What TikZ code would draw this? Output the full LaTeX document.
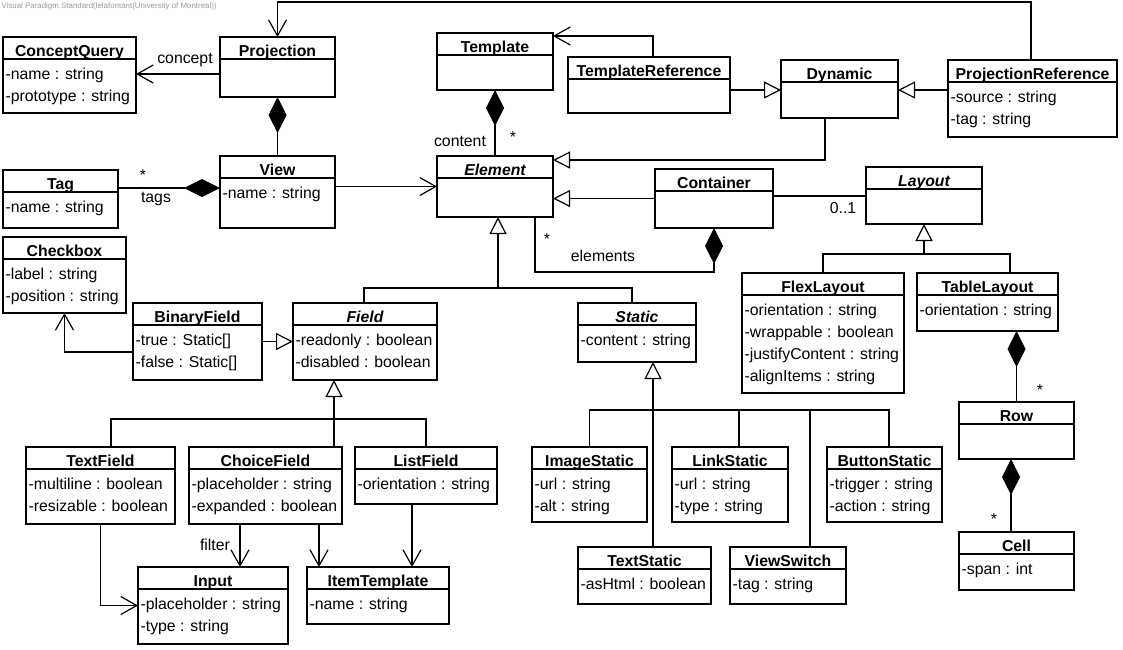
\documentclass[tikz,border=0pt]{standalone}
\usepackage{fontspec}
\setmainfont{Liberation Sans}
\usetikzlibrary{arrows.meta,calc}

\newcommand{\umlfont}{\fontsize{15.8}{19}\selectfont}

\tikzset{
  classbox/.style={draw, inner sep=0pt, outer sep=0pt, anchor=north west},
  classtitle/.style={font=\umlfont\bfseries, inner sep=0pt, anchor=base},
  attr/.style={font=\umlfont, inner sep=0pt, anchor=base west},
  lbl/.style={font=\umlfont, inner sep=0pt, anchor=base},
  assoc/.style={-{Straight Barb[length=16pt,width=18pt,line width=1.2pt]}},
  gen/.style={-{Triangle[open,length=17pt,width=17pt]}},
  comp/.style={{Diamond[length=36pt,width=18pt]}-},
}

% name, x, y (top left), width, height, title, attributes
\newcommand{\umlclass}[7]{%
  \node[classbox, minimum width=#4pt, minimum height=#5pt] (#1) at (#2,#3) {};
  \node[classtitle] (#1-title) at ($(#1.north)+(0,19)$) {#6};
  \draw ($(#1.north west)+(0,22)$) -- ($(#1.north east)+(0,22)$);
  \if\relax\detokenize{#7}\relax\else
    \foreach \atr [count=\k] in {#7}
      \node[attr] (#1-a\k) at ($(#1.north west)+(2,20+22*\k)$) {\atr};
  \fi
}

\begin{document}
\begin{tikzpicture}[x=1pt, y=-1pt, line width=1.2pt]
  \useasboundingbox (0,0) rectangle (1123,649);
  \node[anchor=west, inner sep=0pt, text=black!40, font=\fontsize{7.9}{9}\selectfont] (watermark) at (1,6)
    {Visual Paradigm Standard(lelafontant(University of Montreal))};

  % classes
  \umlclass{ConceptQuery}{3}{37}{133}{76}{ConceptQuery}{-name : string, -prototype : string}
  \umlclass{Projection}{220}{37}{115}{60}{Projection}{}
  \umlclass{Tag}{3}{170}{115}{58}{Tag}{-name : string}
  \umlclass{View}{220}{156}{115}{72}{View}{-name : string}
  \umlclass{Template}{437}{33}{116}{57}{Template}{}
  \umlclass{TemplateReference}{568}{57}{162}{56}{TemplateReference}{}
  \umlclass{Element}{437}{156}{116}{61}{\itshape Element}{}
  \umlclass{Dynamic}{781}{60}{117}{58}{Dynamic}{}
  \umlclass{ProjectionReference}{948}{60}{169}{77}{ProjectionReference}{-source : string, -tag : string}
  \umlclass{Container}{655}{169}{118}{59}{Container}{}
  \umlclass{Layout}{866}{167}{116}{57}{\itshape Layout}{}
  \umlclass{Checkbox}{3}{237}{123}{76}{Checkbox}{-label : string, -position : string}
  \umlclass{BinaryField}{133}{303}{129}{77}{BinaryField}{{-true : Static[]}, {-false : Static[]}}
  \umlclass{Field}{293}{303}{144}{77}{\itshape Field}{-readonly : boolean, -disabled : boolean}
  \umlclass{Static}{578}{303}{118}{59}{\itshape Static}{-content : string}
  \umlclass{FlexLayout}{742}{273}{162}{120}{FlexLayout}{-orientation : string, -wrappable : boolean, -justifyContent : string, -alignItems : string}
  \umlclass{TableLayout}{917}{273}{141}{58}{TableLayout}{-orientation : string}
  \umlclass{TextField}{26}{447}{149}{77}{TextField}{-multiline : boolean, -resizable : boolean}
  \umlclass{ChoiceField}{189}{447}{153}{77}{ChoiceField}{-placeholder : string, -expanded : boolean}
  \umlclass{ListField}{355}{447}{142}{57}{ListField}{-orientation : string}
  \umlclass{Input}{138}{567}{150}{77}{Input}{-placeholder : string, -type : string}
  \umlclass{ItemTemplate}{307}{567}{142}{57}{ItemTemplate}{-name : string}
  \umlclass{ImageStatic}{532}{447}{115}{75}{ImageStatic}{-url : string, -alt : string}
  \umlclass{LinkStatic}{672}{447}{116}{75}{LinkStatic}{-url : string, -type : string}
  \umlclass{ButtonStatic}{827}{447}{115}{75}{ButtonStatic}{-trigger : string, -action : string}
  \umlclass{TextStatic}{578}{547}{133}{57}{TextStatic}{-asHtml : boolean}
  \umlclass{ViewSwitch}{730}{547}{116}{57}{ViewSwitch}{-tag : string}
  \umlclass{Row}{959}{402}{115}{57}{Row}{}
  \umlclass{Cell}{959}{532}{115}{58}{Cell}{-span : int}

  % associations
  \draw[assoc] (Projection.west |- 0,74) -- (ConceptQuery.east |- 0,74);
  \draw[assoc] (ProjectionReference.north -| 1031,0) -- ++(0,-58) -| (Projection.north);
  \draw[assoc] (TemplateReference.north -| 653,0) |- (Template.east |- 0,36);
  \draw[assoc] (View.east |- Element.west) -- (Element.west);
  \draw[assoc] (BinaryField.west |- 0,352) -| (Checkbox.south);
  \draw[assoc] (ChoiceField.south -| 240,0) -- (Input.north -| 240,0);
  \draw[assoc] (ChoiceField.south -| 319,0) -- (ItemTemplate.north -| 319,0);
  \draw[assoc] (ListField.south -| 412,0) -- (ItemTemplate.north -| 412,0);
  \draw[assoc] (TextField.south) |- (Input.west);
  \draw (Container.east |- 0,196) -- (Layout.west |- 0,196);

  % compositions
  \draw[comp] (Projection.south) -- (View.north);
  \draw[comp] (View.west |- 0,188) -- (Tag.east |- 0,188);
  \draw[comp] (Template.south) -- (Element.north);
  \draw[comp] (Container.south) -- ++(0,44) -| (Element.south -| 535,0);
  \draw[comp] (Row.north |- TableLayout.south) -- (Row.north);
  \draw[comp] (Row.south -| 1011,0) -- (Cell.north -| 1011,0);

  % generalizations
  \draw[gen] (Dynamic.south -| 825,0) |- (Element.east |- 0,160);
  \draw[gen] (Container.west) -- (Element.east |- Container.west);
  \draw[gen] (TemplateReference.east |- 0,90) -- (Dynamic.west |- 0,90);
  \draw[gen] (ProjectionReference.west |- 0,90) -- (Dynamic.east |- 0,90);
  \draw[gen] (Element.south -| 498,0) ++(0,71) -- (Element.south -| 498,0);
  \draw (Field.north -| 364,0) -- ++(0,-15) -| (Static.north -| 632,0);
  \draw[gen] (BinaryField.east) -- (Field.west |- BinaryField.east);
  \draw[gen] (ChoiceField.north -| 334,0) -- (Field.south -| 334,0);
  \draw (TextField.north -| 111,0) -- ++(0,-28) -| (ListField.north);
  \draw[gen] (TextStatic.north -| 653,0) -- (Static.south -| 653,0);
  \draw (ImageStatic.north) -- ++(0,-37) -| (ButtonStatic.north -| 889,0);
  \draw (LinkStatic.north -| 739,0) -- ++(0,-37);
  \draw (ViewSwitch.north -| 810,0) -- ++(0,-137);
  \draw[gen] (Layout.south) ++(0,30) -- (Layout.south);
  \draw (FlexLayout.north) -- ++(0,-19) -| (TableLayout.north -| 1010,0);

  % labels
  \node[lbl] (lconcept) at (185,63) {concept};
  \node[lbl] (ltagsmult) at (143,180) {*};
  \node[lbl] (ltags) at (156,202) {tags};
  \node[lbl] (lcontent) at (460,146) {content};
  \node[lbl] (lcontentmult) at (513,142) {*};
  \node[lbl] (lelemmult) at (547,244) {*};
  \node[lbl] (lelements) at (603,261) {elements};
  \node[lbl] (lzeroone) at (843,213) {0..1};
  \node[lbl] (lrowmult) at (1040,395) {*};
  \node[lbl] (lcellmult) at (994,524) {*};
  \node[lbl] (lfilter) at (215,550) {filter};
\end{tikzpicture}
\end{document}
